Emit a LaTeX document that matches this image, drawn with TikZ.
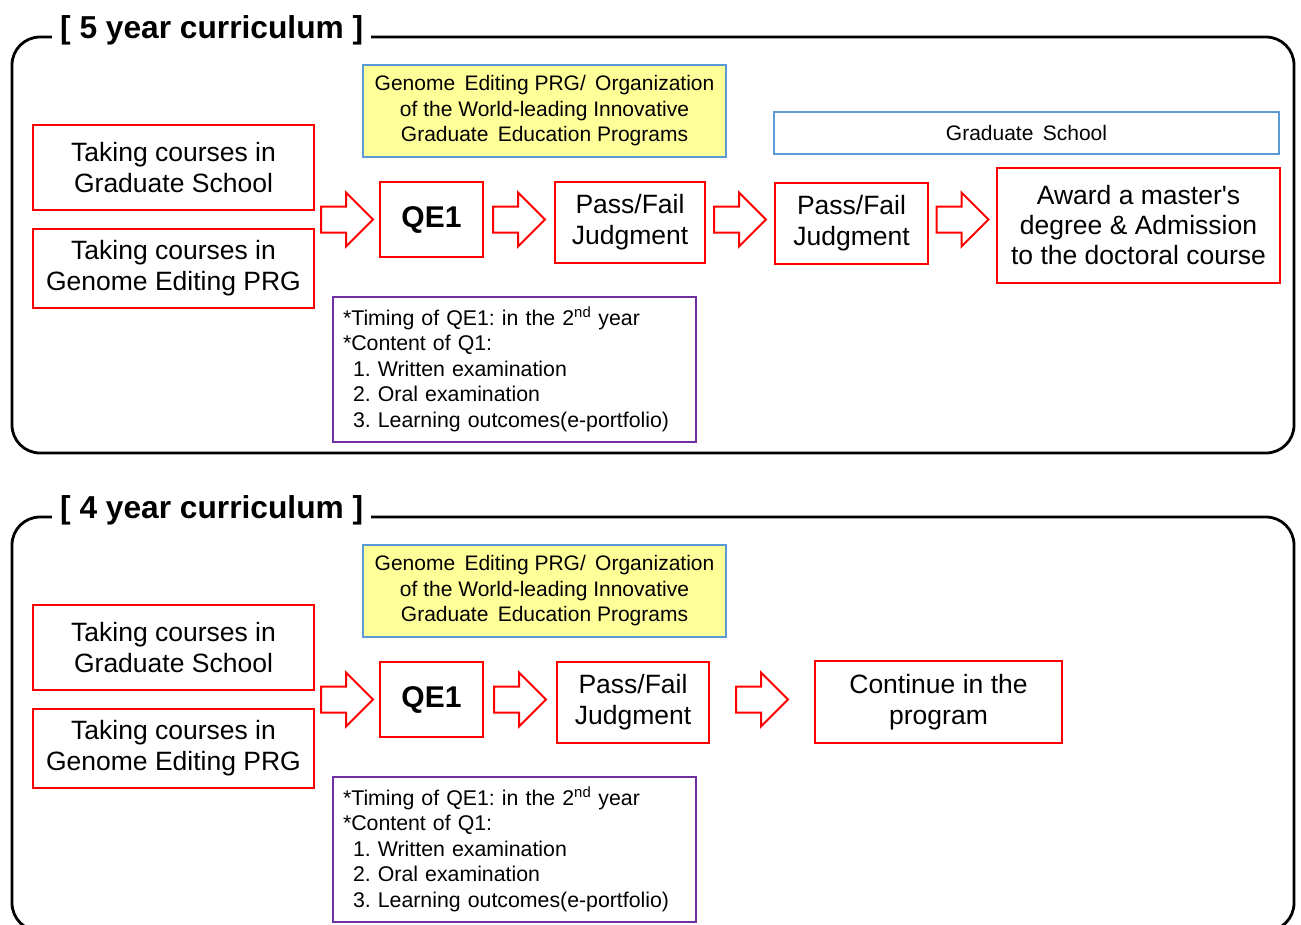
\documentclass[tikz,border=0pt]{standalone}
\usepackage{fontspec}
\setmainfont{Liberation Sans}
\usetikzlibrary{calc}
\frenchspacing
\definecolor{boxred}{RGB}{255,0,0}
\definecolor{boxblue}{RGB}{91,155,213}
\definecolor{boxpurple}{RGB}{112,48,160}
\definecolor{paleyellow}{RGB}{255,255,153}
\tikzset{
  frameline/.style={draw=black, line width=2.8pt, rounded corners=28pt},
  titletext/.style={anchor=base west, fill=white, inner xsep=8pt, inner ysep=3pt, font=\fontsize{31.7}{36}\selectfont\bfseries},
  redbox/.style={draw=boxred, line width=2.5pt, align=center, inner sep=0pt, font=\fontsize{26.5}{31}\selectfont},
  qebox/.style={redbox, font=\fontsize{30}{34}\selectfont\bfseries},
  yellowbox/.style={draw=boxblue, line width=2.2pt, fill=paleyellow, align=center, inner sep=0pt, font=\fontsize{21}{25.5}\selectfont},
  bluebox/.style={draw=boxblue, line width=2.2pt, align=center, inner sep=0pt, font=\fontsize{21}{25.5}\selectfont},
  notebox/.style={draw=boxpurple, line width=2.5pt, align=left, inner xsep=10pt, inner ysep=0pt, text width=343pt, font=\fontsize{21.3}{25.5}\selectfont},
  arrowline/.style={draw=boxred, line width=2pt, line join=miter}
}
\newcommand{\blockarrow}[1]{%
  \draw[arrowline, shift={#1}] (-26,-13) -- (-1,-13) -- (-1,-27) -- (26,0) -- (-1,27) -- (-1,13) -- (-26,13) -- cycle;}
\newcommand{\notetext}{*Timing of QE1: in the 2\textsuperscript{nd} year\\{*}Content of Q1:\\\hspace*{10pt}1. Written examination\\\hspace*{10pt}2. Oral examination\\\hspace*{10pt}3. Learning outcomes(e-portfolio)}
\begin{document}
\begin{tikzpicture}[x=1pt,y=-1pt]
\useasboundingbox (0,0) rectangle (1301,924);
\clip (0,0) rectangle (1301,924);

% ---------- 5 year curriculum ----------
\draw[frameline] (12,37) rectangle (1294,453);
\node[titletext] (t5) at (52,38) {[ 5 year curriculum ]};

\node[yellowbox, minimum width=363pt, minimum height=92pt] (ye5) at (544.5,111)
  {Genome\, Editing PRG/\, Organization\\of the World-leading Innovative\\Graduate\, Education Programs};
\node[bluebox, minimum width=505pt, minimum height=42pt] (bl5) at (1026.5,133) {Graduate\, School};

\node[redbox, minimum width=281pt, minimum height=85pt] (ta5) at (173.5,167.5) {Taking courses in\\Graduate School};
\node[redbox, minimum width=281pt, minimum height=79pt] (tb5) at (173.5,268.5) {Taking courses in\\Genome Editing PRG};
\node[qebox, minimum width=103pt, minimum height=75pt] (qe5) at (431.5,219.5) {QE1};
\node[redbox, minimum width=150pt, minimum height=81pt] (pf5a) at (630,222.5) {Pass/Fail\\Judgment};
\node[redbox, minimum width=153pt, minimum height=81pt] (pf5b) at (851.5,223.5) {Pass/Fail\\Judgment};
\node[redbox, minimum width=283pt, minimum height=115pt, font=\fontsize{26.5}{30}\selectfont] (aw5) at (1138.5,225.5)
  {Award a master\textquotesingle s\\degree \& Admission\\to the doctoral course};
\node[notebox, minimum height=145pt] (pu5) at (514.5,369.5) {\notetext};

\blockarrow{($(ta5.east |- qe5.west)!0.5!(qe5.west)$)}
\blockarrow{($(qe5.east)!0.5!(qe5.east -| pf5a.west)$)}
\blockarrow{($(pf5a.east |- qe5.east)!0.5!(qe5.east -| pf5b.west)$)}
\blockarrow{($(pf5b.east |- qe5.east)!0.5!(qe5.east -| aw5.west)$)}

% ---------- 4 year curriculum ----------
\draw[frameline] (12,517) rectangle (1294,931);
\node[titletext] (t4) at (52,518) {[ 4 year curriculum ]};

\node[yellowbox, minimum width=363pt, minimum height=92pt] (ye4) at (544.5,591)
  {Genome\, Editing PRG/\, Organization\\of the World-leading Innovative\\Graduate\, Education Programs};

\node[redbox, minimum width=281pt, minimum height=85pt] (ta4) at (173.5,647.5) {Taking courses in\\Graduate School};
\node[redbox, minimum width=281pt, minimum height=79pt] (tb4) at (173.5,748.5) {Taking courses in\\Genome Editing PRG};
\node[qebox, minimum width=103pt, minimum height=75pt] (qe4) at (431.5,699.5) {QE1};
\node[redbox, minimum width=152pt, minimum height=81pt] (pf4) at (633,702.5) {Pass/Fail\\Judgment};
\node[redbox, minimum width=247pt, minimum height=82pt] (co4) at (938.5,702) {Continue in the\\program};
\node[notebox, minimum height=145pt] (pu4) at (514.5,849.5) {\notetext};

\blockarrow{($(ta4.east |- qe4.west)!0.5!(qe4.west)$)}
\blockarrow{($(qe4.east)!0.5!(qe4.east -| pf4.west)$)}
\blockarrow{($(pf4.east |- qe4.east)!0.5!(qe4.east -| co4.west)$)}
\end{tikzpicture}
\end{document}
